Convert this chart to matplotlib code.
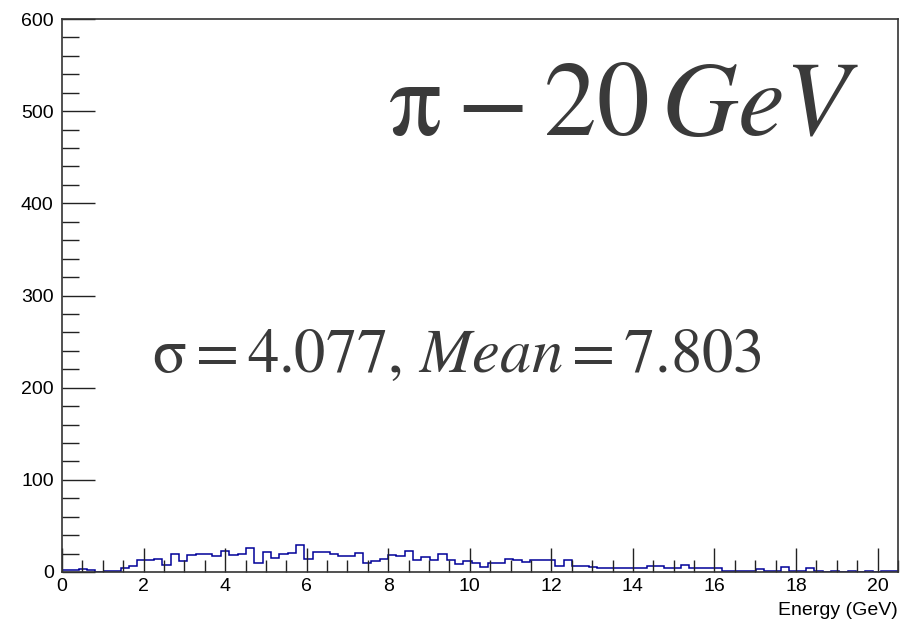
import numpy as np
import matplotlib
matplotlib.use("Agg")
import matplotlib.pyplot as plt
from matplotlib.ticker import MultipleLocator

# Histogram: 100 bins over [0, 20.5] GeV
x_min, x_max, n_bins = 0.0, 20.5, 100
counts = [
    2, 2, 3, 2, 0, 1, 1, 4, 6, 13,
    13, 14, 8, 19, 12, 18, 19, 19, 17, 23,
    18, 20, 26, 10, 22, 15, 19, 21, 29, 14,
    22, 22, 20, 17, 17, 21, 10, 12, 14, 18,
    17, 23, 13, 16, 13, 19, 13, 9, 12, 10,
    5, 10, 10, 14, 13, 11, 13, 13, 13, 6,
    13, 6, 6, 5, 4, 4, 4, 4, 4, 4,
    7, 7, 4, 4, 8, 4, 4, 4, 4, 1,
    1, 1, 1, 3, 1, 1, 5, 1, 1, 4,
    1, 0, 1, 0, 1, 0, 1, 0, 1, 1,
]
title_text = r"$\mathrm{π} - \mathrm{20}\,GeV$"
stats_text = r"$\mathrm{σ} = \mathrm{4.077},\,Mean = \mathrm{7.803}$"
x_label = "Energy (GeV)"

plt.rcParams['mathtext.fontset'] = 'stix'
plt.rcParams['font.family'] = ['Liberation Sans', 'DejaVu Sans']

fig = plt.figure(figsize=(9.15, 6.21), dpi=100)
ax = fig.add_axes([62/915, 1-572/621, (898-62)/915, (572-19)/621])

edges = np.linspace(x_min, x_max, n_bins + 1)
ax.stairs(counts, edges, color='#000099', linewidth=1.1, baseline=0)

ax.set_xlim(x_min, x_max)
ax.set_ylim(0, 600)

ax.xaxis.set_major_locator(MultipleLocator(2))
ax.xaxis.set_minor_locator(MultipleLocator(0.5))
ax.yaxis.set_major_locator(MultipleLocator(100))
ax.yaxis.set_minor_locator(MultipleLocator(20))
ax.tick_params(axis='both', which='both', direction='in', top=False, right=False,
               colors='#222222', labelcolor='black', labelsize=14)
ax.tick_params(axis='x', which='major', length=17, width=1, pad=4)
ax.tick_params(axis='x', which='minor', length=9, width=1)
ax.tick_params(axis='y', which='major', length=24, width=1, pad=6)
ax.tick_params(axis='y', which='minor', length=12, width=1)
for s in ax.spines.values():
    s.set_color('#333333')
    s.set_linewidth(1.2)

ax.set_xlabel(x_label, fontsize=14)
ax.xaxis.set_label_coords(1.0, -0.055)
ax.xaxis.label.set_horizontalalignment('right')

ax.text(0.39, 0.79, title_text, transform=ax.transAxes, fontsize=76,
        color='#3a3a3a', ha='left', va='baseline')
ax.text(0.1077, 0.3617, stats_text, transform=ax.transAxes, fontsize=45,
        color='#3a3a3a', ha='left', va='baseline')

fig.savefig('out.png', dpi=100)
